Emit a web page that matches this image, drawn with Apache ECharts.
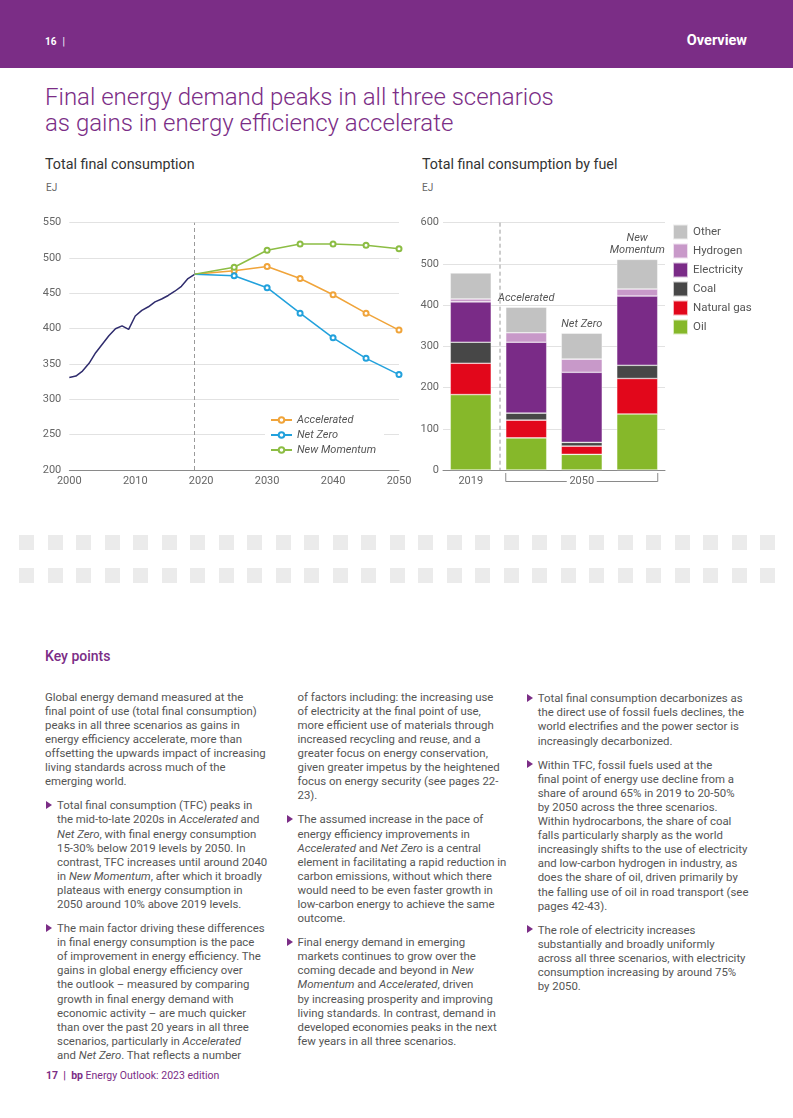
<!DOCTYPE html>
<html>
<head>
<meta charset="utf-8">
<script src="https://cdn.jsdelivr.net/npm/echarts/dist/echarts.min.js"></script>
<style>
  html, body { margin:0; padding:0; }
  body { width:793px; height:1118px; position:relative; background:#fff; overflow:hidden;
         font-family: Roboto, "Liberation Sans", Arial, sans-serif; }
  #header { position:absolute; left:0; top:0; width:793px; height:68px; background:#7b2d86; }
  #pageno { position:absolute; left:45px; top:35px; font-size:10px; line-height:14px; color:#fff; font-weight:700; }
  #pageno span { font-weight:400; margin-left:6px; }
  #section { position:absolute; right:46px; top:32px; font-size:14.5px; line-height:18px; color:#fff; font-weight:700; }
  #title { position:absolute; left:45px; top:84px; font-size:24px; line-height:26px; font-weight:300; color:#7b2d86; white-space:nowrap; }
  .sub { position:absolute; top:155.5px; font-size:14.3px; line-height:16px; font-weight:400; color:#333; white-space:nowrap; }
  .unit { position:absolute; top:182px; font-size:10px; line-height:12px; color:#666; }
  #chart { position:absolute; left:0; top:195px; width:793px; height:310px; }
  .squares { position:absolute; left:19px; width:756px; height:15px;
             background: repeating-linear-gradient(to right, #ebebeb 0px, #ebebeb 15px, transparent 15px, transparent 28.5px); }
  #key { position:absolute; left:45px; top:647px; font-size:14px; line-height:18px; font-weight:500; color:#7b2d86; }
  .col { position:absolute; top:689.7px; font-size:11.4px; line-height:14.1px; color:#555; white-space:nowrap; }
  .col p { margin:0 0 10px 0; position:relative; }
  .col p.b::before { content:""; position:absolute; top:2.6px; width:0; height:0;
                     border-left:6px solid #7b2d86; border-top:4.5px solid transparent; border-bottom:4.5px solid transparent; }
  #col1 { left:45px; }
  #col1 p.b { padding-left:12px; }
  #col1 p.b::before { left:1px; }
  #col2 { left:297.5px; }
  #col2 p.b::before { left:-11px; }
  #col3 { left:537.7px; top:691.3px; }
  #col3 p.b::before { left:-10.7px; }
  #footer { position:absolute; left:46px; top:1069px; font-size:10.5px; line-height:14px; color:#7b2d86; white-space:nowrap; }
  #footer b { font-weight:700; }
</style>
</head>
<body>
<div id="header"></div>
<div id="pageno">16<span>|</span></div>
<div id="section">Overview</div>
<div id="title">Final energy demand peaks in all three scenarios<br>as gains in energy efficiency accelerate</div>
<div class="sub" style="left:45px">Total final consumption</div>
<div class="sub" style="left:422px">Total final consumption by fuel</div>
<div class="unit" style="left:46px">EJ</div>
<div class="unit" style="left:422px">EJ</div>
<div id="chart"></div>
<div class="squares" style="top:534.5px"></div>
<div class="squares" style="top:568px"></div>
<div id="key">Key points</div>

<div class="col" id="col1">
<p>Global energy demand measured at the<br>final point of use (total final consumption)<br>peaks in all three scenarios as gains in<br>energy efficiency accelerate, more than<br>offsetting the upwards impact of increasing<br>living standards across much of the<br>emerging world.</p>
<p class="b">Total final consumption (TFC) peaks in<br>the mid-to-late 2020s in <i>Accelerated</i> and<br><i>Net Zero</i>, with final energy consumption<br>15-30% below 2019 levels by 2050. In<br>contrast, TFC increases until around 2040<br>in <i>New Momentum</i>, after which it broadly<br>plateaus with energy consumption in<br>2050 around 10% above 2019 levels.</p>
<p class="b">The main factor driving these differences<br>in final energy consumption is the pace<br>of improvement in energy efficiency. The<br>gains in global energy efficiency over<br>the outlook – measured by comparing<br>growth in final energy demand with<br>economic activity – are much quicker<br>than over the past 20 years in all three<br>scenarios, particularly in <i>Accelerated</i><br>and <i>Net Zero</i>. That reflects a number</p>
</div>

<div class="col" id="col2">
<p>of factors including: the increasing use<br>of electricity at the final point of use,<br>more efficient use of materials through<br>increased recycling and reuse, and a<br>greater focus on energy conservation,<br>given greater impetus by the heightened<br>focus on energy security (see pages 22-<br>23).</p>
<p class="b">The assumed increase in the pace of<br>energy efficiency improvements in<br><i>Accelerated</i> and <i>Net Zero</i> is a central<br>element in facilitating a rapid reduction in<br>carbon emissions, without which there<br>would need to be even faster growth in<br>low-carbon energy to achieve the same<br>outcome.</p>
<p class="b">Final energy demand in emerging<br>markets continues to grow over the<br>coming decade and beyond in <i>New<br>Momentum</i> and <i>Accelerated</i>, driven<br>by increasing prosperity and improving<br>living standards. In contrast, demand in<br>developed economies peaks in the next<br>few years in all three scenarios.</p>
</div>

<div class="col" id="col3">
<p class="b">Total final consumption decarbonizes as<br>the direct use of fossil fuels declines, the<br>world electrifies and the power sector is<br>increasingly decarbonized.</p>
<p class="b">Within TFC, fossil fuels used at the<br>final point of energy use decline from a<br>share of around 65% in 2019 to 20-50%<br>by 2050 across the three scenarios.<br>Within hydrocarbons, the share of coal<br>falls particularly sharply as the world<br>increasingly shifts to the use of electricity<br>and low-carbon hydrogen in industry, as<br>does the share of oil, driven primarily by<br>the falling use of oil in road transport (see<br>pages 42-43).</p>
<p class="b">The role of electricity increases<br>substantially and broadly uniformly<br>across all three scenarios, with electricity<br>consumption increasing by around 75%<br>by 2050.</p>
</div>

<div id="footer"><b>17&nbsp;&nbsp;|&nbsp;&nbsp;bp</b> Energy Outlook: 2023 edition</div>

<script>
// ---- Data: Total final consumption (EJ) ----
const histYears = [2000, 2001, 2002, 2003, 2004, 2005, 2006, 2007, 2008, 2009,
                   2010, 2011, 2012, 2013, 2014, 2015, 2016, 2017, 2018, 2019];
const histValues = [331, 333, 340, 351, 366, 378, 390, 400, 404, 399,
                    418, 426, 431, 438, 442, 447, 453, 460, 471, 477];
const scenarioYears = [2019, 2025, 2030, 2035, 2040, 2045, 2050];
const accelerated = [477, 482, 488, 471, 448, 422, 398];
const netZero     = [477, 475, 458, 422, 387, 358, 335];
const newMomentum = [477, 487, 511, 520, 520, 518, 513];
const leftYTicks = { min: 200, max: 550, interval: 50 };
const leftXTicks = { min: 2000, max: 2050, interval: 10 };

// ---- Data: Total final consumption by fuel (EJ) ----
const fuelCategories = ['2019', 'Accelerated', 'Net Zero', 'New Momentum'];
const oil         = [183, 78, 38, 136];
const naturalGas  = [76, 43, 20, 86];
const coal        = [51, 17, 9, 32];
const electricity = [98, 172, 170, 168];
const hydrogen    = [7, 23, 32, 17];
const other       = [63, 62, 63, 72];
const rightYTicks = { min: 0, max: 600, interval: 100 };

const FONT = 'Roboto, "Liberation Sans", Arial, sans-serif';
const axisLabelStyle = { color: '#666', fontSize: 11, fontFamily: FONT };

const chart = echarts.init(document.getElementById('chart'), null, { renderer: 'canvas' });

function pairs(xs, ys) { return xs.map((x, i) => [x, ys[i]]); }
function scenarioData(ys) {
  return scenarioYears.map((x, i) => i === 0 ? { value: [x, ys[i]], symbol: 'none' } : [x, ys[i]]);
}
function scenarioSeries(name, ys, color) {
  return {
    name, type: 'line', xAxisIndex: 0, yAxisIndex: 0,
    data: scenarioData(ys), color,
    symbol: 'emptyCircle', symbolSize: 5, showAllSymbol: true,
    lineStyle: { width: 1.5, color }, itemStyle: { color, borderWidth: 1.2 },
    emphasis: { disabled: true }, z: 3
  };
}
function barSeries(name, values, color, extra) {
  return Object.assign({
    name, type: 'bar', xAxisIndex: 1, yAxisIndex: 1, stack: 'fuel',
    data: values, barWidth: 41,
    itemStyle: { color, borderColor: 'rgba(255,255,255,0.7)', borderWidth: 0.6 },
    emphasis: { disabled: true }
  }, extra || {});
}

const option = {
  animation: false,
  textStyle: { fontFamily: FONT },
  grid: [
    { left: 69.3, top: 27.7, width: 329.7, height: 247.3 },
    { left: 443, top: 27.7, width: 222, height: 247.3 }
  ],
  xAxis: [
    { gridIndex: 0, type: 'value', min: leftXTicks.min, max: leftXTicks.max, interval: leftXTicks.interval,
      axisLine: { lineStyle: { color: '#8a8a8a', width: 1 } }, axisTick: { show: false },
      splitLine: { show: false },
      axisLabel: Object.assign({ margin: 6, formatter: v => String(v) }, axisLabelStyle) },
    { gridIndex: 1, type: 'category', data: fuelCategories,
      axisLine: { lineStyle: { color: '#8a8a8a', width: 1 } }, axisTick: { show: false },
      axisLabel: Object.assign({ margin: 6, interval: 0,
        formatter: (v, i) => i === 0 ? '2019' : (i === 2 ? '2050' : '') }, axisLabelStyle) }
  ],
  yAxis: [
    { gridIndex: 0, type: 'value', min: leftYTicks.min, max: leftYTicks.max, interval: leftYTicks.interval,
      axisLine: { show: false }, axisTick: { show: false },
      splitLine: { lineStyle: { color: '#e2e2e2', width: 1 } },
      axisLabel: Object.assign({ margin: 8 }, axisLabelStyle) },
    { gridIndex: 1, type: 'value', min: rightYTicks.min, max: rightYTicks.max, interval: rightYTicks.interval,
      axisLine: { show: false }, axisTick: { show: false },
      splitLine: { lineStyle: { color: '#e2e2e2', width: 1 } },
      axisLabel: Object.assign({ margin: 4 }, axisLabelStyle) }
  ],
  legend: [
    { data: ['Accelerated', 'Net Zero', 'New Momentum'], orient: 'vertical',
      left: 265, top: 216, itemWidth: 21, itemHeight: 7, itemGap: 3,
      backgroundColor: '#fff', padding: [3, 8, 3, 5], selectedMode: false,
      textStyle: { fontStyle: 'italic', color: '#555', fontSize: 11, lineHeight: 12, fontFamily: FONT } },
    { data: ['Other', 'Hydrogen', 'Electricity', 'Coal', 'Natural gas', 'Oil'], orient: 'vertical',
      left: 672, top: 28.5, itemWidth: 15, itemHeight: 15, itemGap: 2, icon: 'rect',
      padding: 0, selectedMode: false,
      textStyle: { color: '#555', fontSize: 11.5, lineHeight: 14, fontFamily: FONT } }
  ],
  series: [
    { name: 'History', type: 'line', xAxisIndex: 0, yAxisIndex: 0,
      data: pairs(histYears, histValues), symbol: 'none', color: '#2f2c6d',
      lineStyle: { width: 1.5, color: '#2f2c6d' }, emphasis: { disabled: true }, z: 2,
      markLine: { silent: true, symbol: ['none', 'none'], label: { show: false },
        lineStyle: { type: [4, 3], color: '#9a9a9a', width: 1 },
        data: [{ xAxis: histYears[histYears.length - 1] }] } },
    scenarioSeries('Accelerated', accelerated, '#f0a43a'),
    scenarioSeries('Net Zero', netZero, '#22a1dc'),
    scenarioSeries('New Momentum', newMomentum, '#8cbd44'),
    barSeries('Oil', oil, '#86b82a'),
    barSeries('Natural gas', naturalGas, '#e2071b'),
    barSeries('Coal', coal, '#474747'),
    barSeries('Electricity', electricity, '#7a2b87'),
    barSeries('Hydrogen', hydrogen, '#c899c9'),
    barSeries('Other', other, '#c2c2c2', {
      label: { show: true, position: 'top', distance: 3,
        formatter: p => p.dataIndex === 0 ? '' : (p.name === 'New Momentum' ? 'New\nMomentum' : p.name),
        fontStyle: 'italic', color: '#555', fontSize: 11, lineHeight: 12, fontFamily: FONT } })
  ]
};
chart.setOption(option);

// Decorations: separator between 2019 and 2050 bars, and the 2050 bracket
const y0 = chart.convertToPixel({ yAxisIndex: 1 }, rightYTicks.min);
const yTop = chart.convertToPixel({ yAxisIndex: 1 }, rightYTicks.max);
const cx = fuelCategories.map(c => chart.convertToPixel({ xAxisIndex: 1 }, c));
const half = 20.5;
const L = cx[1] - half, R = cx[3] + half, M = cx[2];
const sep = (cx[0] + half + cx[1] - half) / 2 + 1.5;
const by = y0 + 11.5;
chart.setOption({
  graphic: [
    { type: 'line', silent: true, shape: { x1: sep, y1: yTop, x2: sep, y2: y0 },
      style: { stroke: '#9a9a9a', lineDash: [4, 3], lineWidth: 1 } },
    { type: 'polyline', silent: true, shape: { points: [[L, y0 + 3], [L, by], [M - 15, by]] },
      style: { stroke: '#8a8a8a', fill: null, lineWidth: 1 } },
    { type: 'polyline', silent: true, shape: { points: [[M + 15, by], [R, by], [R, y0 + 3]] },
      style: { stroke: '#8a8a8a', fill: null, lineWidth: 1 } }
  ]
});
</script>
</body>
</html>
